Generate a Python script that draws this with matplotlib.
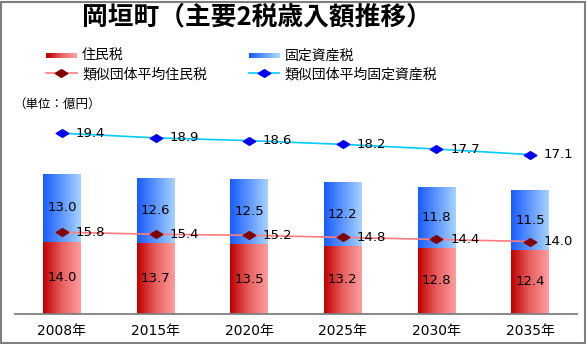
import matplotlib.pyplot as plt
import numpy as np
from matplotlib.patches import Rectangle
from matplotlib.lines import Line2D
from matplotlib.colors import LinearSegmentedColormap
from matplotlib.path import Path

# data
years = ['2008年', '2015年', '2020年', '2025年', '2030年', '2035年']
juminzei = [14.0, 13.7, 13.5, 13.2, 12.8, 12.4]
kotei = [13.0, 12.6, 12.5, 12.2, 11.8, 11.5]
ruiji_jumin = [15.8, 15.4, 15.2, 14.8, 14.4, 14.0]
ruiji_kotei = [19.4, 18.9, 18.6, 18.2, 17.7, 17.1]

JP = ['Noto Sans CJK JP', 'DejaVu Sans']
NUM = ['DejaVu Sans', 'Noto Sans CJK JP']
plt.rcParams['font.family'] = JP

red_cmap = LinearSegmentedColormap.from_list('r', ['#c00000', '#e86060', '#ff9c9c'])
blue_cmap = LinearSegmentedColormap.from_list('b', ['#1a5cff', '#5f97ff', '#a6d2ff'])

# flattened diamond marker
diamond = Path([(-1, 0), (0, 0.62), (1, 0), (0, -0.62), (-1, 0)],
               [Path.MOVETO, Path.LINETO, Path.LINETO, Path.LINETO, Path.CLOSEPOLY])

W, H = 587, 344
fig = plt.figure(figsize=(W / 100, H / 100), dpi=100)
ax = fig.add_axes([15 / W, 1 - 314 / H, 562 / W, 233 / H])
ax2 = ax.twinx()

x = np.arange(len(years))
bw = 0.405


def grad_bars(bars, cmap):
    grad = np.linspace(0, 1, 64).reshape(1, -1)
    for b in bars:
        x0, y0 = b.get_x(), b.get_y()
        im = ax.imshow(grad, cmap=cmap, aspect='auto', zorder=2,
                       extent=(x0, x0 + b.get_width(), y0, y0 + b.get_height()))
        im.set_clip_path(b)


b1 = ax.bar(x, juminzei, bw, facecolor='none', edgecolor='none')
b2 = ax.bar(x, kotei, bw, bottom=juminzei, facecolor='none', edgecolor='none')
grad_bars(b1, red_cmap)
grad_bars(b2, blue_cmap)

for i in range(len(x)):
    ax.text(x[i], juminzei[i] / 2, f'{juminzei[i]:.1f}', ha='center', va='center',
            fontsize=9.5, family=NUM, zorder=5)
    ax.text(x[i], juminzei[i] + kotei[i] / 2, f'{kotei[i]:.1f}', ha='center', va='center',
            fontsize=9.5, family=NUM, zorder=5)

ax.plot(x, ruiji_jumin, color='#ff7c80', lw=1.2, marker=diamond, ms=9,
        mfc='#800000', mec='#800000', zorder=4)
for i in range(len(x)):
    ax.annotate(f'{ruiji_jumin[i]:.1f}', (x[i], ruiji_jumin[i]), xytext=(10, 0),
                textcoords='offset points', va='center', fontsize=9.5, family=NUM, zorder=5)

ax2.plot(x, ruiji_kotei, color='#00ccff', lw=1.2, marker=diamond, ms=9,
         mfc='#0000ee', mec='#0000ee', zorder=4)
for i in range(len(x)):
    ax2.annotate(f'{ruiji_kotei[i]:.1f}', (x[i], ruiji_kotei[i]), xytext=(10, 0),
                 textcoords='offset points', va='center', fontsize=9.5, family=NUM, zorder=5)

ax.set_xlim(-0.5, len(years) - 0.5)
ax.set_ylim(0, 45)
ax2.set_ylim(0, 25)
ax.set_xticks(x)
ax.set_xticklabels(years, fontsize=10, family=NUM)
ax.tick_params(axis='x', length=0, pad=7)
ax.set_yticks([])
ax2.set_yticks([])
for a in (ax, ax2):
    for s in ['top', 'left', 'right']:
        a.spines[s].set_visible(False)
    a.patch.set_visible(False)
ax2.spines['bottom'].set_visible(False)
ax.spines['bottom'].set_color('#808080')
ax.spines['bottom'].set_linewidth(1.3)

fig.text(257 / W, 1 - 17 / H, '岡垣町（主要2税歳入額推移）', ha='center', va='center',
         fontsize=18.5, fontweight='bold')
fig.text(13 / W, 1 - 104 / H, '（単位：億円）', ha='left', va='center', fontsize=9)


# legend: gradient patches for the bars
class GradHandle:
    def __init__(self, cmap):
        self.cmap = cmap


class GradHandler:
    def legend_artist(self, legend, orig, fontsize, handlebox):
        x0, y0 = handlebox.xdescent, handlebox.ydescent
        w, h = handlebox.width, handlebox.height
        n = 12
        for k in range(n):
            r = Rectangle((x0 + w * k / n, y0 + h * 0.2), w / n + 0.3, h * 0.5,
                          facecolor=orig.cmap(k / (n - 1)), edgecolor='none',
                          transform=handlebox.get_transform())
            handlebox.add_artist(r)
        return r


handles = [GradHandle(red_cmap),
           Line2D([], [], color='#ff7c80', lw=1.2, marker=diamond, ms=9, mfc='#800000', mec='#800000'),
           GradHandle(blue_cmap),
           Line2D([], [], color='#00ccff', lw=1.2, marker=diamond, ms=9, mfc='#0000ee', mec='#0000ee')]
labels = ['住民税', '類似団体平均住民税', '固定資産税', '類似団体平均固定資産税']
fig.legend(handles, labels, handler_map={GradHandle: GradHandler()}, ncol=2,
           loc='upper left', bbox_to_anchor=(46 / W, 1 - 49 / H), frameon=False,
           fontsize=10, handlelength=2.2, handletextpad=0.4, columnspacing=3.0,
           labelspacing=0.3, borderpad=0, borderaxespad=0)

fig.patches.append(Rectangle((0.5 / W, 1.5 / H), (W - 2.5) / W, (H - 3) / H,
                             transform=fig.transFigure, fill=False,
                             edgecolor='#808080', lw=1.5))

fig.savefig('out.png', dpi=100)
